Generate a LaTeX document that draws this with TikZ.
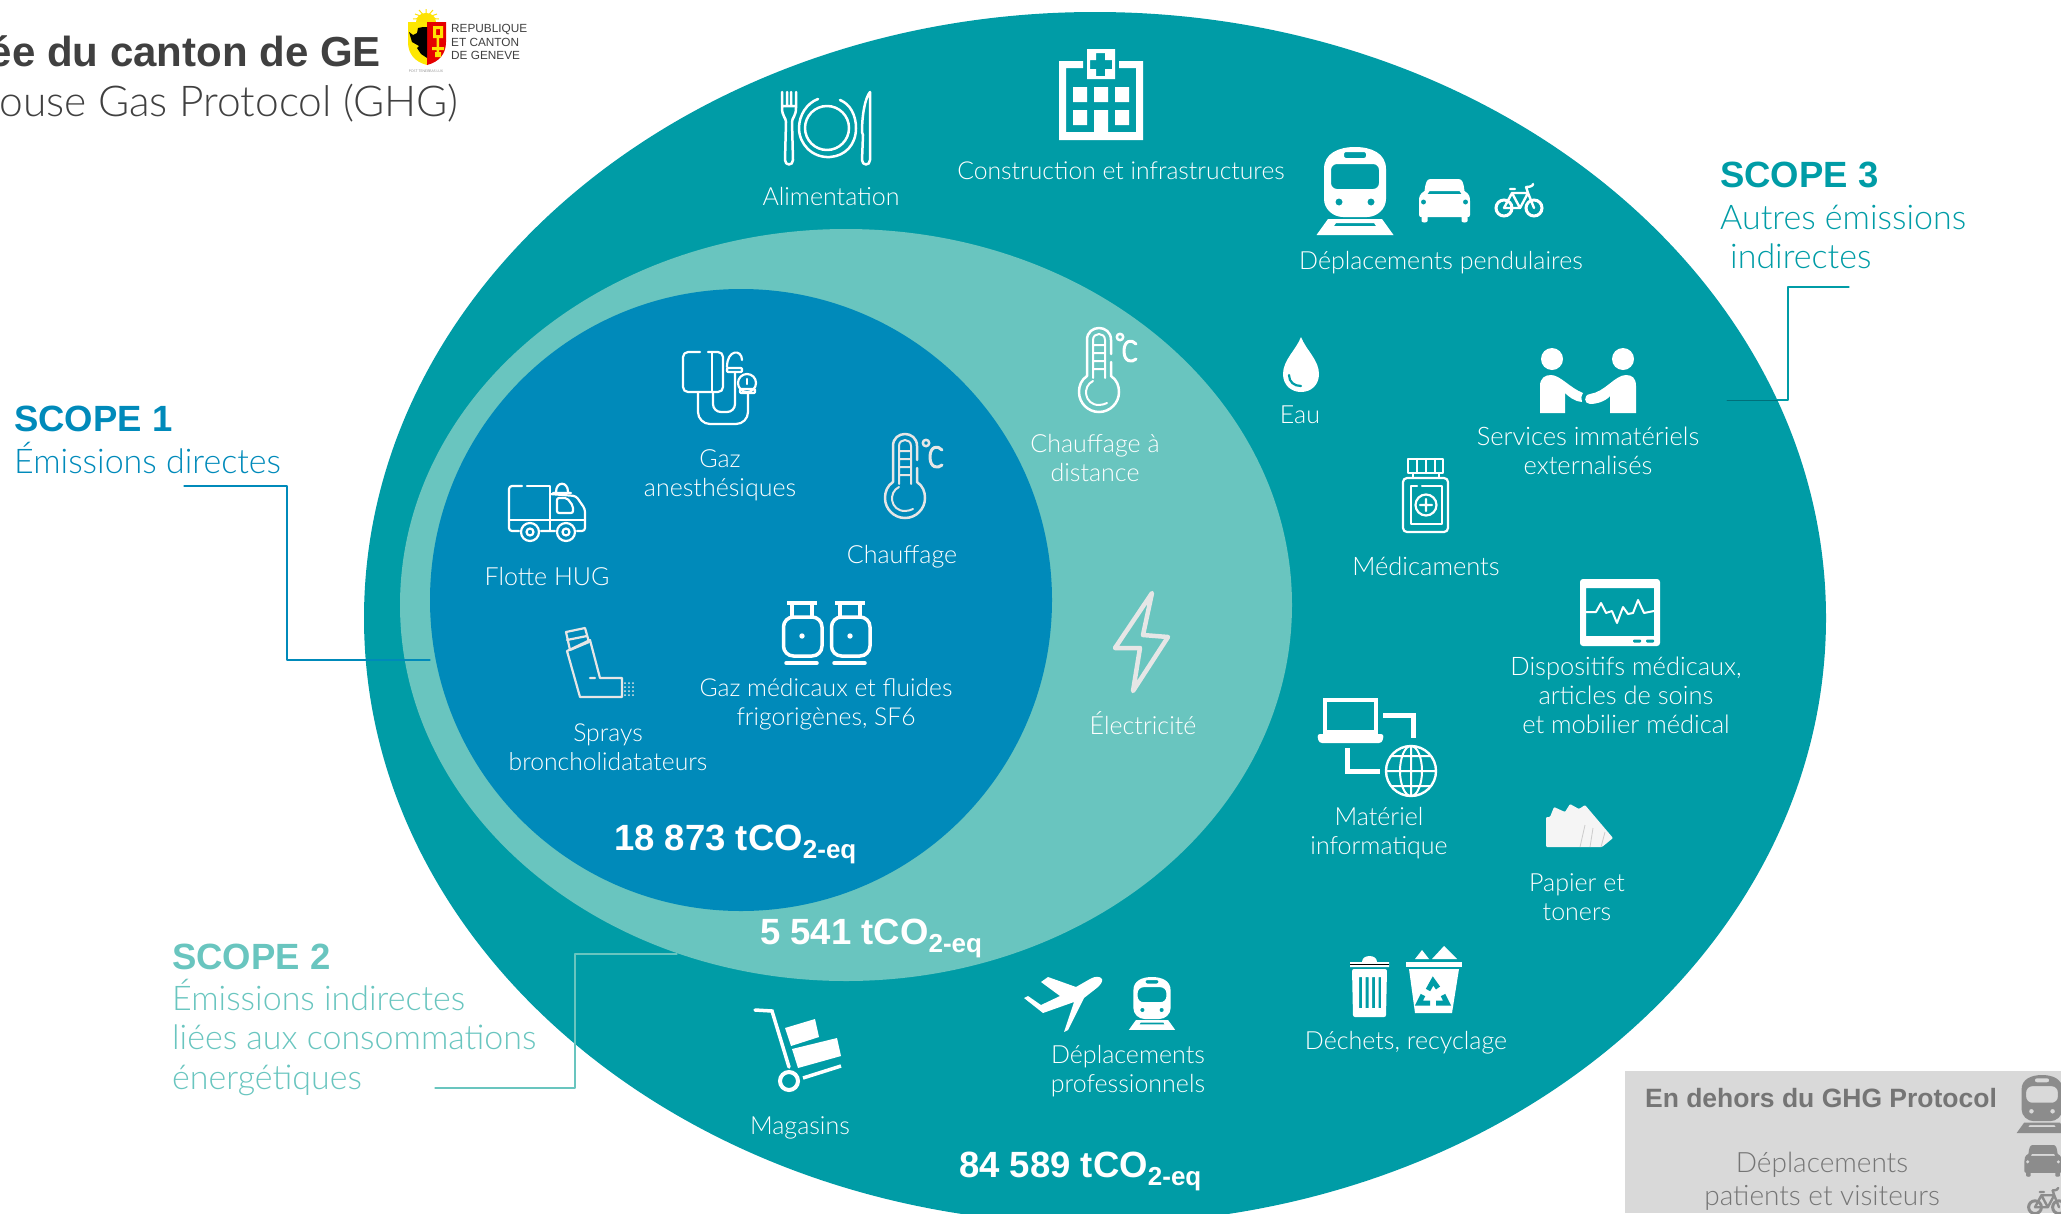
\documentclass[tikz,border=0pt]{standalone}
\usepackage{fontspec}
\setmainfont{Lato Light}
\newfontfamily\bd{Liberation Sans}
\definecolor{outerc}{HTML}{009CA6}
\definecolor{midc}{HTML}{69C5BF}
\definecolor{innerc}{HTML}{008ABA}
\definecolor{greybox}{HTML}{D9D9D9}
\definecolor{greyic}{HTML}{8C8C8C}
\definecolor{greytx}{HTML}{757575}
\definecolor{softw}{HTML}{E6E6E6}
\definecolor{paperc}{HTML}{F5F5F5}
\definecolor{titlec}{HTML}{404040}
\definecolor{darkln}{HTML}{00707A}
\newcommand{\fs}[1]{\fontsize{#1}{#1}\selectfont}
\newcommand{\tco}[1]{{\bd\bfseries\fontsize{36.5}{40}\selectfont #1 tCO\raisebox{-8pt}{\fontsize{26}{26}\selectfont 2-eq}}}
\tikzset{
  lab/.style={text=white,align=center,inner sep=0,font=\fontsize{25}{29}\selectfont},
  labw/.style={text=white,align=center,inner sep=0,font=\fontsize{25.5}{29}\selectfont},
  val/.style={text=white,inner sep=0,anchor=west},
  scopeh/.style={inner sep=0,anchor=west,font=\bd\bfseries\fontsize{36.5}{40}\selectfont},
  scopet/.style={inner sep=0,anchor=west,font=\fontsize{34}{38}\selectfont},
  ln/.style={line width=1.2pt,line cap=round,line join=round},
  ic/.style={line width=2.5pt,line cap=round,line join=round},
  pics/traini/.style={code={
    \fill[even odd rule]
      (-31,22) .. controls (-31,6) and (-16,0) .. (0,0) .. controls (16,0) and (31,6) .. (31,22) -- (31,52)
      .. controls (31,62) and (22,70) .. (12,70) -- (-12,70) .. controls (-22,70) and (-31,62) .. (-31,52) -- cycle
      [rounded corners=6pt] (-24,17) rectangle (24,42)
      [rounded corners=2pt] (-11,5) rectangle (11,11)
      [sharp corners] (-16,55) circle (3.6) (16,55) circle (3.6);
    \fill[even odd rule] (-27,72) -- (27,72) -- (38.5,88) -- (-38.5,88) -- cycle
      (-19,76) -- (19,76) -- (21,79) -- (-21,79) -- cycle;
  }},
  pics/cari/.style={code={
    \fill[even odd rule]
      (-14,0) -- (14,0) .. controls (18,0) and (19,4) .. (20,12) .. controls (25,15) and (25.5,18) .. (25.5,22) -- (25.5,36)
      .. controls (25.5,38) and (24,38) .. (23,38) -- (23,42) .. controls (23,44) and (17,44) .. (17,42) -- (17,38) -- (-17,38) -- (-17,42) .. controls (-17,44) and (-23,44) .. (-23,42) -- (-23,38) .. controls (-24,38) and (-25.5,38) .. (-25.5,36)
      -- (-25.5,22) .. controls (-25.5,18) and (-25,15) .. (-20,12) .. controls (-19,4) and (-18,0) .. (-14,0) -- cycle
      (-15,12) -- (15,12) -- (17,15) -- (-17,15) -- cycle
      (-21,23) circle (2.6) (21,23) circle (2.6);
  }},
  pics/bikei/.style={code={
    \draw[line width=3pt] (-15,24) circle (8) (15,24) circle (8);
    \draw[line width=2.4pt,line join=round,line cap=round]
      (-15,24) -- (-7,9) -- (9,9) -- (15,24) (-7,9) -- (1,24) -- (9,9) (1,24) -- (-15,24)
      (-9,5) -- (-4,5) (7,3) -- (9,9) (7,3) .. controls (11,3) and (14,2) .. (14,0);
  }},
  pics/thermo/.style={code={
    \draw[ic] (12,-30) -- (12,-16) .. controls (18,-12) and (20,-6) .. (20,0) .. controls (20,11) and (11,20) .. (0,20) .. controls (-11,20) and (-20,11) .. (-20,0) .. controls (-20,-6) and (-18,-12) .. (-12,-16) -- (-12,-52)
      .. controls (-12,-68) and (12,-68) .. (12,-52) -- (12,-38);
    \draw[ic,line width=2pt] (-6,-14) -- (-6,-52) .. controls (-6,-60) and (6,-60) .. (6,-52) -- (6,-14)
      (-6,-47) -- (6,-47) (-6,-39) -- (6,-39) (-6,-31) -- (6,-31) (-6,-23) -- (6,-23)
      (-6,-11) .. controls (-17,-6) and (-15,13) .. (0,13) .. controls (3,13) and (6,12) .. (8,11);
    \draw[ic] (21,-55) circle (3.2);
    \draw[ic,line width=3pt] (37,-48) .. controls (33,-53) and (25,-52) .. (25,-41) .. controls (25,-30) and (33,-29) .. (37,-33);
  }}
}
\begin{document}
\begin{tikzpicture}[x=1pt,y=-1pt]
\useasboundingbox (0,0) rectangle (2061,1213);
\clip (0,0) rectangle (2061,1213);
% main shapes
\fill[outerc] (1095,618) ellipse [x radius=731,y radius=606];
\fill[midc] (846,605) ellipse [x radius=446,y radius=376];
\fill[innerc] (741,600) circle (311);
% grey box
\fill[greybox] (1625,1071) rectangle (2061,1213);

% connectors
\coordinate (s1a) at (184,486); \coordinate (s1b) at (287,486); \coordinate (s1c) at (287,660); \coordinate (s1d) at (430,660);
\draw[ln,innerc] (s1a) -- (s1b) -- (s1c) -- (s1d);
\coordinate (s2a) at (435,1088); \coordinate (s2b) at (575,1088); \coordinate (s2c) at (575,954); \coordinate (s2d) at (677,954);
\draw[ln,midc] (s2a) -- (s2b) -- (s2c) -- (s2d);
\coordinate (s3a) at (1849,287); \coordinate (s3b) at (1788,287); \coordinate (s3c) at (1788,400); \coordinate (s3d) at (1777,400); \coordinate (s3e) at (1727,400);
\draw[ln,outerc] (s3a) -- (s3b) -- (s3c) -- (s3d);
\draw[ln,darkln,line width=1pt] (s3d) -- (s3e);

% title
\node[inner sep=0,anchor=east,text=titlec,font=\bd\bfseries\fontsize{42}{44}\selectfont] (title1) at (381,51) {ée du canton de GE};
\node[inner sep=0,anchor=east,text=titlec,font=\fontsize{42.5}{44}\selectfont] (title2) at (459,103) {ouse Gas Protocol (GHG)};
% logo
\fill[yellow!85!orange] (416,22) .. controls (416,10) and (436,10) .. (436,22) -- cycle;
\draw[yellow!85!orange,line width=1pt] (426,18) -- (426,9) (426,18) -- (419,10) (426,18) -- (433,10) (426,18) -- (415,14) (426,18) -- (437,14) (426,18) -- (413,19) (426,18) -- (439,19);
\fill[yellow!90!orange] (408,22) -- (427,22) -- (427,65) .. controls (415,62) and (408,54) .. (408,42) -- cycle;
\fill[red!90!black] (427,22) -- (446,22) -- (446,42) .. controls (446,54) and (439,62) .. (427,65) -- cycle;
\fill[black] (423,27) -- (427,27) -- (427,58) -- (421,54) -- (417,48) -- (419,46) -- (412,42) -- (409,32) -- (413,35) -- (417,33) -- (418,28) -- cycle;
\fill[yellow!85!orange,even odd rule] (433,26) rectangle (443,38) (436,29) rectangle (440,35);
\fill[yellow!85!orange] (436.5,38) rectangle (439,56) (432,47) rectangle (444,50) (435,52) rectangle (441,57);
\node[inner sep=0,anchor=west,text=titlec,align=left,font=\bd\fontsize{11.8}{13.4}\selectfont] (logot) at (451,42) {REPUBLIQUE\\ET CANTON\\DE GENEVE};
\node[inner sep=0,text=titlec,font=\fs{3.5}] (logos) at (426,71) {POST TENEBRAS LUX};

% scope headings
\node[scopeh,text=innerc] (sc1) at (14,419) {SCOPE 1};
\node[scopet,text=innerc] (sc1t) at (14,458) {Émissions directes};
\node[scopeh,text=midc] (sc2) at (172,957) {SCOPE 2};
\node[scopet,text=midc] (sc2a) at (172,995) {Émissions indirectes};
\node[scopet,text=midc] (sc2b) at (172,1037) {liées aux consommations};
\node[scopet,text=midc] (sc2c) at (172,1080) {énergétiques};
\node[scopeh,text=outerc] (sc3) at (1720,175) {SCOPE 3};
\node[scopet,text=outerc] (sc3a) at (1720,217) {Autres émissions};
\node[scopet,text=outerc] (sc3b) at (1730,256) {indirectes};

% labels
\node[lab] (alim) at (831,197) {Alimentation};
\node[lab,font=\fontsize{24.7}{29}\selectfont] (constr) at (1121,171) {Construction et infrastructures};
\node[lab] (pend) at (1441,263) {Déplacements pendulaires};
\node[lab] (eau) at (1300,415) {Eau};
\node[labw] (serv) at (1588,451) {Services immatériels\\externalisés};
\node[labw] (medic) at (1426,566) {Médicaments};
\node[labw] (disp) at (1626,695) {Dispositifs médicaux,\\articles de soins\\et mobilier médical};
\node[lab] (mat) at (1379,833) {Matériel\\informatique};
\node[lab] (pap) at (1577,897) {Papier et\\toners};
\node[lab] (dech) at (1406,1043) {Déchets, recyclage};
\node[lab] (pro) at (1128,1071) {Déplacements\\professionnels};
\node[lab] (mag) at (800,1128) {Magasins};
\node[lab] (dist) at (1095,458) {Chauffage à\\distance};
\node[lab] (elec) at (1143,723) {Électricité};
\node[lab] (anes) at (720,475) {Gaz\\anesthésiques};
\node[lab] (chau) at (902,557) {Chauffage};
\node[lab] (flot) at (547,577) {Flotte HUG};
\node[lab,font=\fontsize{24.7}{29}\selectfont] (gmed) at (826,704) {Gaz médicaux et fluides\\frigorigènes, SF6};
\node[lab,font=\fontsize{24.7}{29}\selectfont] (spr) at (608,747) {Sprays\\broncholidatateurs};
% values
\node[val] (v1) at (614,844) {\tco{18 873}};
\node[val] (v2) at (760,938) {\tco{5 541}};
\node[val] (v3) at (959,1171) {\tco{84 589}};
% grey box text
\node[inner sep=0,text=greytx,font=\bd\bfseries\fontsize{26.5}{30}\selectfont] (gh) at (1821,1098) {En dehors du GHG Protocol};
\node[lab,text=greytx,font=\fontsize{28}{33}\selectfont] (gt) at (1822,1181) {Déplacements\\patients et visiteurs};

% icons: repeated
\pic[white] at (1355,147) {traini};
\pic[white] at (1444.5,179) {cari};
\pic[white] at (1519,184) {bikei};
\pic[white,scale=.6] at (1152,977) {traini};
\pic[greyic,scale=.66] at (2042,1075) {traini};
\pic[greyic,scale=.73] at (2043,1145) {cari};
\pic[greyic,scale=.8] at (2047,1188) {bikei};
\pic[softw] at (905,498) {thermo};
\pic[white] at (1099,392) {thermo};

% hospital
\fill[white,even odd rule] (1059,61) -- (1083,61) -- (1083,68) -- (1066,68) -- (1066,132) -- (1136,132) -- (1136,68) -- (1119,68) -- (1119,61) -- (1143,61) -- (1143,140) -- (1059,140) -- cycle;
\fill[white,even odd rule] (1087,49) rectangle (1115,79)
  (1096,53) -- (1105,53) -- (1105,60) -- (1112,60) -- (1112,69) -- (1105,69) -- (1105,76) -- (1096,76) -- (1096,69) -- (1090,69) -- (1090,60) -- (1096,60) -- cycle;
\fill[white] (1073,87) rectangle (1087,102) (1094,87) rectangle (1108,102) (1115,87) rectangle (1129,102)
  (1073,110) rectangle (1087,125) (1094,110) rectangle (1108,134) (1115,110) rectangle (1129,125);

% fork, plate, knife
\draw[white,ic] (782,92) -- (782,108) .. controls (782,116) and (786,118) .. (786,122) -- (785,160) .. controls (785,166) and (793,166) .. (793,160) -- (792,122) .. controls (792,118) and (796,116) .. (796,108) -- (796,92) (787,92) -- (787,106) (791,92) -- (791,106) (782,106) -- (796,106);
\draw[white,ic] (827,128) circle (22);
\draw[white,ic] (840,100) .. controls (850,104) and (856,115) .. (856,128) .. controls (856,145) and (845,156) .. (830,157) .. controls (812,158) and (799,144) .. (799,128) .. controls (799,115) and (807,103) .. (818,99);
\draw[white,ic] (870,92) .. controls (865,98) and (862,115) .. (862,132) -- (863,135) -- (862,160) .. controls (862,166) and (870,166) .. (870,160) -- cycle;

% gauge
\begin{scope}[white,ic,line width=2.2pt]
\draw[rounded corners=5pt] (700,352) -- (683,352) -- (683,392) -- (723,392) -- (723,352) -- (708,352);
\draw (712,352) -- (712,392);
\draw[rounded corners=12pt] (698,392) -- (698,424) -- (748,424) -- (748,393);
\draw[rounded corners=8pt] (713,392) -- (713,412) -- (735,412) -- (735,372);
\draw (727,367) .. controls (727,349) and (742,349) .. (742,360);
\draw[rounded corners=1pt] (727,368) rectangle (742,372);
\draw (747,383) circle (9);
\draw[rounded corners=1pt] (740,389) rectangle (755,393);
\draw (747,379) -- (747,384);
\end{scope}

% truck
\begin{scope}[white,ic,line width=2.2pt]
\draw[rounded corners=3pt] (522,486) -- (509,486) -- (509,531) -- (519,531) (541,531) -- (555,531) (577,531) -- (585,531) -- (585,509) -- (576,496) -- (550,494);
\draw (527,486) -- (550,486) -- (550,531) (509,520) -- (585,520);
\draw[rounded corners=2pt] (557,498) -- (567,498) -- (573,506) -- (573,513) -- (557,513) -- cycle;
\draw (530,532) circle (9) (530,532) circle (3.5) (566,532) circle (9) (566,532) circle (3.5);
\draw (556,492) .. controls (556,481) and (568,481) .. (568,492) (553,493) -- (571,493);
\end{scope}

% inhaler
\begin{scope}[softw,ic,line width=2.2pt]
\draw (566,632) -- (585,628) -- (589,642) -- (570,650) -- cycle (567,640) -- (587,636);
\draw (567,651) -- (590,640) -- (600,678) -- (622,678) -- (622,697) -- (580,697) -- cycle (590,678) -- (595,678);
\foreach \a in {625,629,633} \foreach \b in {683,687,691,695} \fill (\a,\b) circle (1);
\end{scope}

% bottles
\foreach \dx in {0,48}{
\begin{scope}[xshift=\dx pt,white]
\draw[line width=3.5pt] (792,617) -- (792,603) (787,603) -- (817,603) (812,603) -- (812,617);
\draw[line width=3.5pt,rounded corners=10pt] (783.5,617) rectangle (822,656);
\draw[line width=3.5pt,line cap=round] (786,663) -- (817,663);
\fill (802,636) circle (2.7);
\end{scope}}

% bolt
\draw[softw,line width=4.5pt,line join=round] (1152,593) -- (1115,648) -- (1140,648) -- (1133,691) -- (1168,637) -- (1143,635) -- cycle;

% drop
\fill[white] (1301,337) .. controls (1296,350) and (1283,360) .. (1283,374) .. controls (1283,385) and (1291,392) .. (1301,392) .. controls (1311,392) and (1319,385) .. (1319,374) .. controls (1319,360) and (1306,350) .. (1301,337) -- cycle;
\draw[outerc,line width=2.2pt,line cap=round] (1289,375) .. controls (1289,382) and (1294,386) .. (1301,386);

% medicine
\begin{scope}[white,ic,line width=2.2pt]
\draw (1408,459) rectangle (1443,473) (1417,459) -- (1417,473) (1426,459) -- (1426,473) (1435,459) -- (1435,473) (1413,473) -- (1413,478) (1439,473) -- (1439,478);
\draw[rounded corners=4pt] (1403,478) rectangle (1448,532);
\draw (1417,486) -- (1411,486) -- (1411,524) -- (1442,524) -- (1442,486) -- (1422,486);
\draw (1426,505) circle (10.5) (1420,505) -- (1432,505) (1426,499) -- (1426,511);
\end{scope}

% handshake
\fill[white] (1552,359) circle (11) (1623,359) circle (11);
\fill[white] (1540,413) -- (1540,386) .. controls (1540,378) and (1545,375) .. (1551,375) .. controls (1560,375) and (1570,388) .. (1583,393) .. controls (1581,396) and (1581,399) .. (1582,402) .. controls (1575,402) and (1568,396) .. (1565,393) -- (1565,413) -- cycle;
\fill[white] (1636,413) -- (1636,386) .. controls (1636,378) and (1632,375) .. (1626,375) .. controls (1615,375) and (1605,392) .. (1590,394) .. controls (1583,395) and (1584,404) .. (1590,404) .. controls (1597,404) and (1606,401) .. (1610,396) -- (1610,413) -- cycle;

% monitor
\fill[white,even odd rule,rounded corners=3pt] (1580,579) rectangle (1660,646)
   [sharp corners] (1586,588) rectangle (1654,636);
\draw[white,line width=2pt,line join=round] (1586,612) -- (1596,612) -- (1601,603) -- (1606,613) -- (1612,611) -- (1617,623) -- (1623,607) -- (1628,614) -- (1633,613) -- (1638,600) -- (1644,613) -- (1654,611);
\fill[outerc,rounded corners=1pt] (1633,639.5) rectangle (1641,642.5) (1646,639.5) rectangle (1654,642.5);

% laptop + globe
\begin{scope}[white]
\draw[line width=4.5pt] (1325,700) rectangle (1376,732);
\fill[rounded corners=3pt] (1317,734) -- (1384,734) -- (1382,743) -- (1319,743) -- cycle;
\draw[line width=5pt] (1383,715) -- (1413,715) -- (1413,738) (1347,748) -- (1347,771) -- (1380,771);
\draw[line width=2.4pt] (1411,771) circle (25);
\draw[line width=2pt] (1411,771) ellipse [x radius=11,y radius=25] (1411,746) -- (1411,796) (1386,771) -- (1436,771) (1391,756) -- (1431,756) (1391,786) -- (1431,786);
\end{scope}

% paper
\fill[paperc,rounded corners=1pt] (1546,847) -- (1546,817) -- (1550,817) -- (1554,807) -- (1565,812) -- (1570,804) -- (1579,809) -- (1585,805) -- (1613,838) -- (1602,847) -- cycle;
\draw[black!20,line width=.8pt] (1580,847) -- (1585,825) (1590,847) -- (1593,828) (1601,847) -- (1605,832);

% trash
\fill[white] (1350,962) -- (1362,962) .. controls (1362,954) and (1377,954) .. (1377,962) -- (1389,962) -- (1389,967) -- (1350,967) -- cycle;
\draw[black,line width=1pt] (1350,964) -- (1389,964);
\fill[white,even odd rule,rounded corners=2pt] (1352,969) -- (1387,969) -- (1386,1017) -- (1353,1017) -- cycle
  [sharp corners] (1359,977) rectangle (1362,1008) (1365.5,977) rectangle (1368.5,1008) (1372,977) rectangle (1375,1008) (1378.5,977) rectangle (1381,1008);
% recycle bin
\fill[white] (1415,959) -- (1422,950) -- (1429,959) -- cycle;
\fill[white] (1432,959) -- (1444,946) -- (1457,959) -- cycle;
\fill[white] (1406,962) rectangle (1462,967);
\fill[white] (1409,969) -- (1459,969) -- (1452,1013) -- (1415,1013) -- cycle;
\draw[outerc,line width=5pt] (1428,990) -- (1433,981) -- (1438,988) (1443,995) -- (1447,1003) -- (1436,1003) (1430,1003) -- (1419,1003) -- (1423,995);

% trolley
\begin{scope}[white]
\draw[line width=3.5pt,line cap=round] (755,1010) -- (772,1011) -- (789,1067);
\draw[line width=4pt] (789,1081) ellipse [x radius=9,y radius=9];
\fill (785,1028) -- (815,1019) -- (819,1037) -- (791,1046) -- cycle;
\fill (792,1049) -- (837,1038) -- (841,1056) -- (798,1068) -- cycle;
\draw[line width=3.5pt] (803,1078) -- (841,1066);
\end{scope}

% plane
\fill[white] (1102,979) .. controls (1100,976) and (1095,976) .. (1090,979) -- (1076,987) -- (1048,977) -- (1041,982) -- (1060,996) -- (1041,1005) -- (1028,996) -- (1024,998) -- (1043,1013) -- (1074,1002) -- (1064,1032) -- (1068,1030) -- (1084,998) -- (1098,987) .. controls (1101,984) and (1103,981) .. (1102,979) -- cycle;
\end{tikzpicture}
\end{document}
